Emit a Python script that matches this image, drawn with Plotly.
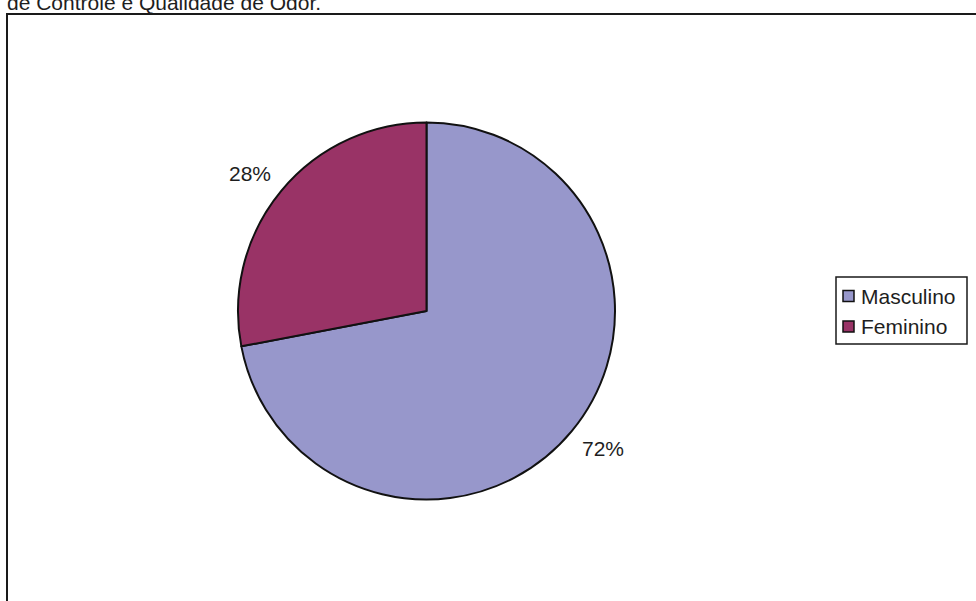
import math
import plotly.graph_objects as go

W, H = 976, 601

# Gender split of the respondents
categories = ["Masculino", "Feminino"]
values = [72, 28]
colors = ["#9797CB", "#993366"]

heading = "de Controle e Qualidade de Odor."

FONT = "Liberation Sans, Arial"
TXT = "#1e1e1e"

# pie placement (pixels)
CX, CY, R = 426.5, 311.0, 188.5
LABEL_R = 223.5
LABEL_TURN = -0.028  # small angular nudge of the outside labels


def px(x):
    return x / W


def py(y):
    return 1 - y / H


fig = go.Figure(
    go.Pie(
        labels=categories,
        values=values,
        sort=False,
        direction="clockwise",
        rotation=0,
        marker=dict(colors=colors, line=dict(color="#111111", width=2)),
        textinfo="none",
        domain=dict(x=[px(CX - R), px(CX + R)], y=[py(CY + R), py(CY - R)]),
        hoverinfo="label+percent",
        showlegend=False,
    )
)

# percentage labels placed outside each slice, at the slice's mid angle
total = sum(values)
start = 0.0
for v in values:
    mid = (start + v / 2) / total * 2 * math.pi + LABEL_TURN
    lx = CX + LABEL_R * math.sin(mid)
    ly = CY - LABEL_R * math.cos(mid)
    fig.add_annotation(
        text=f"{v / total:.0%}", xref="paper", yref="paper",
        x=px(lx), y=py(ly), xanchor="center", yanchor="middle",
        showarrow=False, font=dict(family=FONT, size=21, color=TXT),
    )
    start += v

# outer chart frame
fig.add_shape(
    type="rect", xref="paper", yref="paper",
    x0=px(7), x1=1.02, y0=-0.02, y1=py(14),
    line=dict(color="#1a1a1a", width=2), fillcolor="rgba(0,0,0,0)", layer="below",
)

fig.add_annotation(
    text=heading, xref="paper", yref="paper",
    x=px(5), y=py(16), xanchor="left", yanchor="bottom",
    showarrow=False, font=dict(family=FONT, size=21, color=TXT),
)

# legend box with one swatch and name per category
LX0, LX1, LY0, LY1 = 836, 967, 277, 344
fig.add_shape(
    type="rect", xref="paper", yref="paper",
    x0=px(LX0), x1=px(LX1), y0=py(LY1), y1=py(LY0),
    line=dict(color="#1a1a1a", width=1.5), fillcolor="white",
)
for i, (name, col) in enumerate(zip(categories, colors)):
    yc = 296 + i * 30.5
    fig.add_shape(
        type="rect", xref="paper", yref="paper",
        x0=px(843), x1=px(854), y0=py(yc + 5.5), y1=py(yc - 5.5),
        line=dict(color="#111111", width=1.5), fillcolor=col,
    )
    fig.add_annotation(
        text=name, xref="paper", yref="paper",
        x=px(859), y=py(yc), xanchor="left", yanchor="middle",
        showarrow=False, font=dict(family=FONT, size=21, color=TXT),
    )

fig.update_layout(
    width=W, height=H,
    margin=dict(l=0, r=0, t=0, b=0),
    paper_bgcolor="white", plot_bgcolor="white",
    showlegend=False,
)

fig.write_html("out.html")
